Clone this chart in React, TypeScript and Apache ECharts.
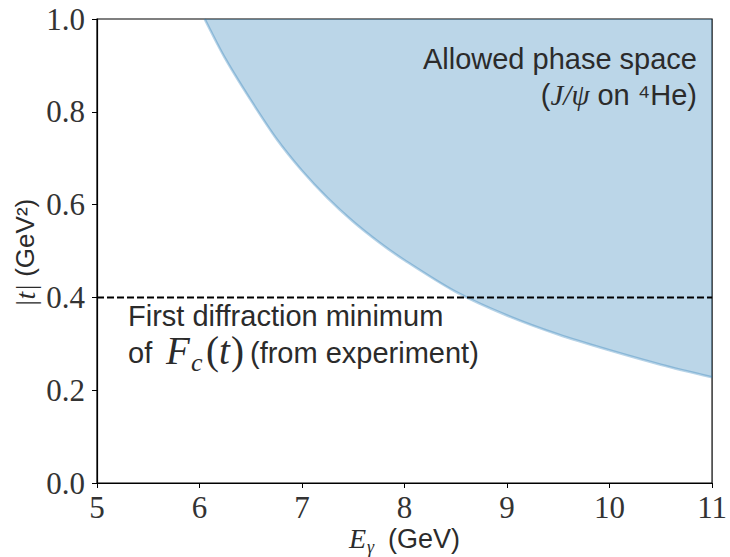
import React, { useEffect, useRef } from "react";
import * as echarts from "echarts";

// Photon energy E_gamma (GeV) and boundary |t|_min (GeV^2) of the allowed phase space
const energies = [6.05, 6.25, 6.5, 6.75, 7.0, 7.25, 7.5, 7.75, 8.0, 8.5, 9.0, 9.5, 10.0, 10.5, 11.0];
const tMin = [1.0, 0.915, 0.825, 0.742, 0.673, 0.614, 0.563, 0.519, 0.48, 0.412, 0.361, 0.32, 0.286, 0.255, 0.228];

// First diffraction minimum line
const diffractionX = [5, 11];
const diffractionT = [0.4, 0.4];

const xTicks = [5, 6, 7, 8, 9, 10, 11];
const yTickLabels = ["0.0", "0.2", "0.4", "0.6", "0.8", "1.0"];

const SANS = "'Liberation Sans', Arial, sans-serif";
const SERIF = "'Liberation Serif', 'Times New Roman', serif";
const TXT = "#2b2b2b";

export default function App() {
  const ref = useRef<HTMLDivElement>(null);

  useEffect(() => {
    document.body.style.margin = "0";
    if (!ref.current) return;
    const chart = echarts.init(ref.current, null, { renderer: "svg" });

    const curve = energies.map((e, i) => [e, tMin[i]]);
    const dash = diffractionX.map((e, i) => [e, diffractionT[i]]);

    const t = (text: string, x: number, y: number, font: string, size: number, extra: any = {}) => ({
      type: "text",
      x,
      y,
      z: 100,
      style: {
        text,
        fontFamily: font,
        fontSize: size,
        fill: TXT,
        align: "left",
        verticalAlign: "middle",
        ...extra,
      },
    });

    chart.setOption({
      animation: false,
      backgroundColor: "#fff",
      grid: {
        left: 97,
        right: 11,
        top: 19,
        bottom: 74,
        show: true,
        borderColor: "#000",
        borderWidth: 1.2,
        backgroundColor: "transparent",
      },
      xAxis: {
        type: "value",
        min: 5,
        max: 11,
        interval: 1,
        splitLine: { show: false },
        axisLine: { show: true, lineStyle: { color: "#000", width: 1.2 } },
        axisTick: { show: true, length: 5, inside: false, lineStyle: { color: "#000", width: 1 } },
        axisLabel: {
          color: "#333",
          fontFamily: SERIF,
          fontSize: 31,
          margin: 9,
          formatter: (v: number) => (xTicks.includes(v) ? String(v) : ""),
        },
      },
      yAxis: {
        type: "value",
        min: 0,
        max: 1,
        interval: 0.2,
        splitLine: { show: false },
        axisLine: { show: true, lineStyle: { color: "#000", width: 1.2 } },
        axisTick: { show: true, length: 5, lineStyle: { color: "#000", width: 1 } },
        axisLabel: {
          color: "#333",
          fontFamily: SERIF,
          fontSize: 31,
          margin: 12,
          formatter: (v: number) => yTickLabels[Math.round(v * 5)] ?? "",
        },
      },
      series: [
        {
          type: "line",
          data: curve,
          smooth: 0.3,
          symbol: "none",
          lineStyle: { color: "rgba(31,119,180,0.32)", width: 2.5 },
          areaStyle: { origin: "end", color: "rgba(31,119,180,0.3)", opacity: 1 },
        },
        {
          type: "line",
          data: dash,
          symbol: "none",
          lineStyle: { color: "#000", width: 2, type: [7, 3] },
        },
      ],
      graphic: [
        // annotation: allowed phase space
        t("Allowed phase space", 697, 58.5, SANS, 29, { align: "right" }),
        {
          type: "text",
          x: 697,
          y: 95,
          z: 100,
          style: {
            text: "{s|(}{m|J/ψ}{s| on ⁴He)}",
            align: "right",
            verticalAlign: "middle",
            fill: TXT,
            rich: {
              s: { fontFamily: SANS, fontSize: 29, fill: TXT },
              m: { fontFamily: SERIF, fontStyle: "italic", fontSize: 29, fill: TXT },
            },
          },
        },
        // annotation: first diffraction minimum
        t("First diffraction minimum", 128, 315.5, SANS, 29, { lineHeight: 26 }),
        t("of", 128, 353, SANS, 29, { lineHeight: 26 }),
        t("F", 166, 350.5, SERIF, 39, { fontStyle: "italic", lineHeight: 26 }),
        t("c", 191, 362.5, SERIF, 26, { fontStyle: "italic", lineHeight: 16 }),
        t("(", 206, 350.5, SERIF, 39, { lineHeight: 26 }),
        t("t", 219, 350.5, SERIF, 39, { fontStyle: "italic", lineHeight: 26 }),
        t(")", 231, 350.5, SERIF, 39, { lineHeight: 26 }),
        t("(from experiment)", 250, 353, SANS, 29, { lineHeight: 26 }),
        // x axis title
        t("E", 349, 538.5, SERIF, 28, { fontStyle: "italic" }),
        t("γ", 367, 547, SERIF, 18, { fontStyle: "italic" }),
        t("(GeV)", 388, 538.6, SANS, 27),
        // y axis title
        {
          type: "text",
          x: 25,
          y: 253,
          rotation: Math.PI / 2,
          z: 100,
          style: {
            text: "{m||t|}{s| (GeV²)}",
            align: "center",
            verticalAlign: "middle",
            fill: TXT,
            rich: {
              s: { fontFamily: SANS, fontSize: 26, fill: TXT },
              m: { fontFamily: SERIF, fontStyle: "italic", fontSize: 28, fill: TXT },
            },
          },
        },
      ],
    });

    return () => chart.dispose();
  }, []);

  return <div ref={ref} style={{ width: 730, height: 557 }} />;
}
